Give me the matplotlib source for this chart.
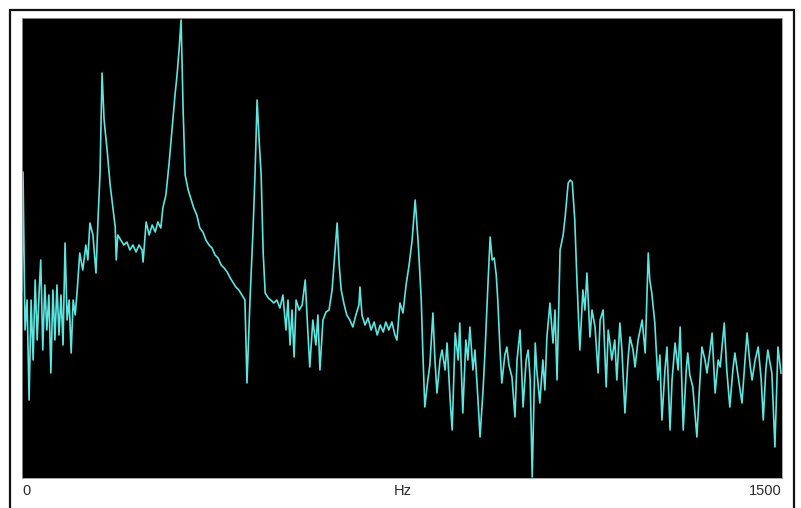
import matplotlib
matplotlib.use('Agg')
import matplotlib.pyplot as plt
from matplotlib.patches import Rectangle

# spectrum: frequency (Hz) and level (arbitrary units, 0..460)
freq_hz = [
    0, 2, 6, 10, 14, 18, 22, 26, 30, 34, 37, 41, 45, 49, 53, 57, 61, 65, 69, 73,
    77, 81, 85, 89, 93, 97, 101, 105, 109, 114, 120, 126, 130, 134, 140, 146, 150, 154, 158, 162,
    168, 174, 180, 184, 186, 189, 195, 201, 207, 213, 219, 225, 231, 237, 239, 245, 251, 257, 263, 268,
    274, 278, 284, 290, 296, 302, 306, 310, 314, 318, 322, 328, 334, 339, 345, 351, 357, 363, 369, 375,
    381, 387, 393, 399, 405, 411, 416, 422, 428, 434, 440, 444, 450, 456, 460, 464, 468, 472, 476, 480,
    486, 491, 497, 503, 509, 515, 521, 525, 529, 533, 537, 541, 547, 553, 559, 564, 568, 574, 580, 584,
    588, 594, 600, 606, 612, 618, 622, 626, 630, 636, 641, 647, 653, 659, 665, 667, 671, 677, 683, 689,
    695, 701, 707, 713, 718, 724, 730, 736, 740, 746, 752, 758, 764, 770, 776, 782, 788, 791, 795, 801,
    805, 811, 815, 819, 825, 829, 835, 839, 845, 849, 855, 861, 864, 870, 876, 880, 884, 890, 894, 900,
    904, 910, 914, 920, 924, 928, 932, 936, 939, 943, 947, 953, 957, 961, 967, 973, 977, 983, 989, 995,
    999, 1003, 1007, 1013, 1016, 1022, 1028, 1032, 1036, 1042, 1048, 1052, 1056, 1062, 1068, 1072, 1078, 1082, 1086, 1091,
    1095, 1101, 1107, 1111, 1115, 1121, 1125, 1131, 1137, 1141, 1147, 1153, 1157, 1161, 1164, 1170, 1174, 1180, 1184, 1190,
    1196, 1200, 1206, 1210, 1216, 1224, 1230, 1236, 1239, 1243, 1249, 1255, 1259, 1263, 1269, 1273, 1279, 1283, 1289, 1295,
    1299, 1305, 1311, 1314, 1318, 1324, 1332, 1338, 1342, 1348, 1352, 1358, 1362, 1368, 1374, 1378, 1382, 1386, 1391, 1397,
    1403, 1407, 1413, 1421, 1427, 1431, 1437, 1441, 1447, 1453, 1459, 1463, 1468, 1472, 1476, 1480, 1486, 1492, 1498,
]
level = [
    188, 306, 148, 178, 78, 178, 118, 198, 138, 188, 218, 128, 193, 148, 183, 105, 188, 138, 193, 143,
    183, 133, 235, 158, 178, 125, 178, 163, 188, 225, 208, 233, 218, 255, 243, 205, 258, 305, 405, 358,
    328, 293, 268, 251, 218, 243, 238, 233, 236, 228, 233, 226, 233, 228, 216, 256, 243, 253, 246, 256,
    250, 270, 283, 313, 348, 383, 403, 428, 458, 368, 303, 288, 278, 270, 263, 250, 246, 238, 233, 230,
    223, 220, 213, 210, 206, 200, 196, 191, 188, 183, 178, 95, 178, 248, 305, 378, 338, 303, 225, 185,
    180, 178, 175, 178, 170, 183, 148, 178, 133, 168, 121, 178, 168, 173, 198, 148, 111, 158, 133, 163,
    108, 158, 166, 168, 188, 228, 255, 213, 188, 173, 163, 158, 151, 163, 173, 191, 163, 153, 160, 148,
    156, 143, 153, 146, 156, 148, 156, 143, 138, 175, 165, 193, 213, 238, 278, 235, 178, 128, 71, 98,
    113, 165, 118, 85, 118, 128, 108, 135, 78, 48, 145, 118, 155, 65, 138, 118, 151, 108, 128, 78,
    41, 88, 128, 198, 241, 218, 220, 203, 178, 133, 95, 123, 131, 113, 101, 61, 118, 148, 71, 118,
    128, 98, 1, 135, 108, 75, 118, 88, 141, 175, 135, 168, 98, 228, 243, 261, 295, 298, 296, 258,
    201, 128, 188, 168, 205, 141, 168, 151, 105, 158, 168, 91, 148, 133, 118, 138, 98, 155, 128, 65,
    118, 141, 128, 111, 138, 158, 125, 225, 198, 185, 155, 98, 123, 58, 108, 131, 48, 98, 135, 108,
    151, 48, 108, 125, 103, 91, 41, 98, 131, 118, 105, 128, 145, 85, 118, 111, 133, 155, 108, 71,
    108, 125, 103, 75, 118, 145, 113, 98, 118, 131, 98, 58, 108, 128, 116, 105, 31, 131, 105,
]

W, H = 801, 508
fig = plt.figure(figsize=(W / 100, H / 100), dpi=100, facecolor='white')

# outer window frame
fig.patches.append(Rectangle((9.5 / W, -0.01), 784.5 / W, 1.01 - 9.5 / H, transform=fig.transFigure,
                             fill=False, edgecolor='#111111', linewidth=1.6))

ax = fig.add_axes([22 / W, 1 - 478 / H, 760 / W, 460 / H])
ax.set_facecolor('black')
ax.plot(freq_hz, level, color='#5ce6e0', linewidth=1.2)
ax.set_xlim(0, 1500)
ax.set_ylim(0, 460)
ax.set_xticks([])
ax.set_yticks([])
for s in ax.spines.values():
    s.set_color('#999999')
    s.set_linewidth(0.6)

lab = dict(fontsize=10.5, family='Liberation Sans', color='#2a2a2a', va='center')
fig.text(22 / W, 1 - 491 / H, '0', ha='left', **lab)
fig.text(403 / W, 1 - 491 / H, 'Hz', ha='center', **lab)
fig.text(782 / W, 1 - 491 / H, '1500', ha='right', **lab)

fig.savefig('out.png', dpi=100, facecolor='white')
